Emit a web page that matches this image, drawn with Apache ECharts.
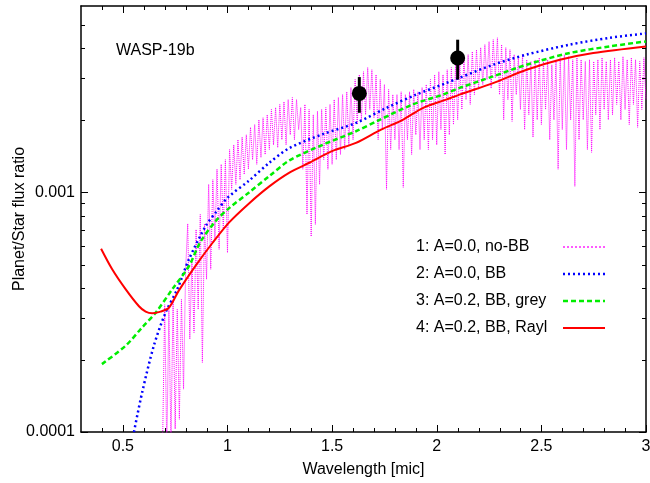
<!DOCTYPE html>
<html><head><meta charset="utf-8">
<script src="https://cdn.jsdelivr.net/npm/echarts@6/dist/echarts.min.js"></script>
<style>html,body{margin:0;padding:0;background:#fff}#c{width:650px;height:483px}</style>
</head><body><div id="c"></div>
<script>
const FONT = "'Liberation Sans', Arial, Helvetica, sans-serif";
const seriesNames = ['1: A=0.0, no-BB', '2: A=0.0, BB', '3: A=0.2, BB, grey', '4: A=0.2, BB, Rayl'];
const seriesColors = ['#ff00ff', '#0000ff', '#00ee00', '#ff0000'];
const titleText = 'WASP-19b';
const xName = 'Wavelength [mic]';
const yName = 'Planet/Star flux ratio';
const xMajor = [0.5, 1, 1.5, 2, 2.5, 3];
const xMinor = [0.4, 0.6, 0.7, 0.8, 0.9, 1.1, 1.2, 1.3, 1.4, 1.6, 1.7, 1.8, 1.9, 2.1, 2.2, 2.3, 2.4, 2.6, 2.7, 2.8, 2.9];
const yMajor = [0.0001, 0.001];
const yMinor = [0.0002, 0.0003, 0.0004, 0.0005, 0.0006, 0.0007, 0.0008, 0.0009, 0.002, 0.003, 0.004, 0.005];

const magenta = [
[0.69,0.00009],[0.70,0.00034],[0.71,0.000085],[0.72,0.000325],[0.73,0.00009],[0.74,0.000358],[0.75,0.000103],[0.76,0.000325],[0.77,0.000113],[0.78,0.000358],
[0.79,0.000151],[0.80,0.000478],[0.81,0.00074],[0.82,0.000244],[0.83,0.000526],[0.84,0.00026],[0.85,0.0007],[0.86,0.000325],[0.87,0.00081],[0.88,0.000195],
[0.89,0.00074],[0.90,0.000434],[0.91,0.00108],[0.92,0.000478],[0.93,0.00113],[0.94,0.000637],[0.95,0.00125],[0.96,0.000579],[0.97,0.00131],[0.98,0.0007],
[0.99,0.00137],[1.00,0.00056],[1.01,0.00151],[1.02,0.00103],[1.03,0.00158],[1.04,0.00108],[1.05,0.00166],[1.06,0.00113],[1.07,0.0017],[1.08,0.00119],
[1.09,0.00174],[1.10,0.00125],[1.11,0.00187],[1.12,0.00137],[1.13,0.00192],[1.14,0.00131],[1.15,0.00201],[1.16,0.0014],[1.17,0.00205],[1.18,0.00144],
[1.19,0.00211],[1.20,0.00151],[1.21,0.00222],[1.22,0.00158],[1.23,0.00226],[1.24,0.00154],[1.25,0.00233],[1.26,0.00166],[1.27,0.00239],[1.28,0.00158],
[1.29,0.00244],[1.30,0.00174],[1.31,0.00249],[1.32,0.00166],[1.33,0.00244],[1.34,0.00183],[1.35,0.00226],[1.36,0.00125],[1.37,0.00233],[1.38,0.00081],
[1.39,0.00222],[1.40,0.000655],[1.41,0.00211],[1.42,0.000735],[1.43,0.00218],[1.44,0.00108],[1.45,0.00222],[1.46,0.00137],[1.47,0.00226],[1.48,0.00125],
[1.49,0.00233],[1.50,0.00131],[1.51,0.00244],[1.52,0.00137],[1.53,0.00249],[1.54,0.00144],[1.55,0.00256],[1.56,0.00151],[1.57,0.00263],[1.58,0.00158],
[1.59,0.00274],[1.60,0.00166],[1.61,0.00296],[1.62,0.00192],[1.63,0.0031],[1.64,0.00201],[1.65,0.00319],[1.66,0.00211],[1.67,0.00332],[1.68,0.00222],
[1.69,0.00325],[1.70,0.00205],[1.71,0.0031],[1.72,0.00166],[1.73,0.00296],[1.74,0.00183],[1.75,0.00282],[1.76,0.00103],[1.77,0.00269],[1.78,0.00151],
[1.79,0.00256],[1.80,0.00166],[1.81,0.00256],[1.82,0.00151],[1.83,0.00263],[1.84,0.00105],[1.85,0.00256],[1.86,0.00166],[1.87,0.00263],[1.88,0.00144],
[1.89,0.00269],[1.90,0.00174],[1.91,0.00263],[1.92,0.00151],[1.93,0.00274],[1.94,0.00166],[1.95,0.00282],[1.96,0.00151],[1.97,0.00296],[1.98,0.00166],
[1.99,0.0031],[2.00,0.00158],[2.01,0.00319],[2.02,0.00183],[2.03,0.0031],[2.04,0.00144],[2.05,0.00325],[2.06,0.00174],[2.07,0.00332],[2.08,0.00192],
[2.09,0.00341],[2.10,0.00201],[2.11,0.0035],[2.12,0.00222],[2.13,0.00366],[2.14,0.00244],[2.15,0.00376],[2.16,0.00233],[2.17,0.00387],[2.18,0.00256],
[2.19,0.00394],[2.20,0.00269],[2.21,0.00402],[2.22,0.00282],[2.23,0.00414],[2.24,0.00296],[2.25,0.00426],[2.26,0.00272],[2.27,0.00434],[2.28,0.00301],
[2.29,0.00442],[2.30,0.00256],[2.31,0.00414],[2.32,0.00201],[2.33,0.00402],[2.34,0.00244],[2.35,0.00394],[2.36,0.00198],[2.37,0.00376],[2.38,0.00256],
[2.39,0.00365],[2.40,0.00222],[2.41,0.00376],[2.42,0.00183],[2.43,0.00358],[2.44,0.00211],[2.45,0.00352],[2.46,0.0017],[2.47,0.00358],[2.48,0.00201],
[2.49,0.00365],[2.50,0.00192],[2.51,0.00352],[2.52,0.00222],[2.53,0.00358],[2.54,0.00166],[2.55,0.00341],[2.56,0.00201],[2.57,0.00358],[2.58,0.00125],
[2.59,0.00365],[2.60,0.00183],[2.61,0.00376],[2.62,0.00151],[2.63,0.00369],[2.64,0.00201],[2.65,0.00358],[2.66,0.00106],[2.67,0.00365],[2.68,0.00166],
[2.69,0.00358],[2.70,0.00201],[2.71,0.00352],[2.72,0.00151],[2.73,0.00358],[2.74,0.00147],[2.75,0.00352],[2.76,0.00211],[2.77,0.00358],[2.78,0.00183],
[2.79,0.00365],[2.80,0.00222],[2.81,0.00352],[2.82,0.00201],[2.83,0.00358],[2.84,0.00211],[2.85,0.00365],[2.86,0.00233],[2.87,0.00352],[2.88,0.00201],
[2.89,0.00369],[2.90,0.00222],[2.91,0.00358],[2.92,0.00192],[2.93,0.00365],[2.94,0.00233],[2.95,0.00358],[2.96,0.00187],[2.97,0.00352],[2.98,0.00222],
[2.99,0.00365],[3.00,0.00244]
];
const blue = [[0.553,0.0001],[0.592,0.000146],[0.648,0.000229],[0.704,0.000315],[0.76,0.000394],[0.816,0.000526],[0.896,0.000724],[0.944,0.000825],[1.0,0.00095],[1.103,0.00112],[1.2,0.00133],[1.295,0.00153],[1.455,0.00175],[1.614,0.00195],[1.758,0.00225],[1.902,0.00256],[2.045,0.00286],[2.109,0.00301],[2.269,0.00341],[2.429,0.00376],[2.636,0.00414],[2.827,0.00442],[3.0,0.00461]];
const green = [[0.4,0.000192],[0.513,0.000229],[0.592,0.000273],[0.657,0.000315],[0.736,0.000394],[0.816,0.000493],[0.87,0.00062],[0.944,0.00076],[1.008,0.00086],[1.103,0.001],[1.2,0.00117],[1.296,0.00136],[1.455,0.00158],[1.614,0.0018],[1.727,0.00201],[1.886,0.00233],[2.029,0.00256],[2.109,0.00273],[2.269,0.00305],[2.429,0.00341],[2.636,0.00382],[2.827,0.00407],[3.0,0.00427]];
const red = [[0.396,0.000582],[0.449,0.000478],[0.513,0.000395],[0.577,0.000335],[0.609,0.000318],[0.64,0.000313],[0.68,0.000318],[0.72,0.00033],[0.768,0.00039],[0.848,0.000495],[0.928,0.000615],[1.008,0.00075],[1.103,0.0009],[1.2,0.00106],[1.296,0.00121],[1.391,0.00133],[1.502,0.00149],[1.614,0.00161],[1.734,0.00183],[1.838,0.00201],[1.933,0.00225],[2.045,0.00244],[2.109,0.00256],[2.269,0.00286],[2.429,0.00325],[2.588,0.00358],[2.748,0.00382],[3.0,0.00407]];
const obsX = [1.63, 2.10];
const obsY = [0.00259, 0.00364];
const obsLo = [0.00215, 0.00296];
const obsHi = [0.00303, 0.00434];

const chart = echarts.init(document.getElementById('c'), null, {renderer: 'canvas'});
const axisLineStyle = {color: '#000', width: 1.5};
const lineStyles = [
  {color: seriesColors[0], width: 1, type: [1, 1]},
  {color: seriesColors[1], width: 2.5, type: [2, 3]},
  {color: seriesColors[2], width: 2.5, type: [5, 3]},
  {color: seriesColors[3], width: 2, type: 'solid'}
];
const legendLineStyles = [
  {color: seriesColors[0], width: 1.3, type: [2, 2], opacity: 1},
  lineStyles[1], lineStyles[2], lineStyles[3]
];
function fmtX(v) { return String(Number(Number(v).toFixed(2))); }
function fmtY(v) { return String(Number(Number(v).toPrecision(6))); }
function xAx(pos, showLabel) {
  return {
    type: 'value', min: 0.3, max: 3, position: pos, gridIndex: 0,
    axisLine: {show: true, onZero: false, lineStyle: axisLineStyle},
    axisTick: {show: false},
    axisLabel: {show: showLabel, customValues: xMajor, formatter: fmtX, fontSize: 16, fontFamily: FONT, color: '#000', margin: 7},
    splitLine: {show: false},
    name: showLabel ? xName : '', nameLocation: 'middle', nameGap: 30, nameMoveOverlap: false,
    nameTextStyle: {fontSize: 16, fontFamily: FONT, color: '#000'}
  };
}
function yAx(pos, showLabel) {
  return {
    type: 'log', logBase: 10, min: 0.0001, max: 0.006, position: pos, gridIndex: 0,
    axisLine: {show: true, onZero: false, lineStyle: axisLineStyle},
    axisTick: {show: false},
    axisLabel: {show: showLabel, formatter: function (v) { return yMajor.some(m => Math.abs(m - v) / m < 1e-6) ? fmtY(v) : ''; },
                fontSize: 16, fontFamily: FONT, color: '#000', margin: 6},
    splitLine: {show: false},
    name: showLabel ? yName : '', nameLocation: 'middle', nameGap: 53, nameMoveOverlap: false,
    nameTextStyle: {fontSize: 16, fontFamily: FONT, color: '#000'}
  };
}
const option = {
  animation: false,
  backgroundColor: '#fff',
  textStyle: {fontFamily: FONT},
  title: {text: titleText, left: 116, top: 43, padding: 0, textStyle: {fontSize: 16, fontWeight: 'normal', fontFamily: FONT, color: '#000'}},
  grid: {left: 81, right: 4, top: 6, bottom: 51, containLabel: false, outerBoundsMode: 'none'},
  legend: {
    data: seriesNames.map((n, i) => ({name: n, lineStyle: legendLineStyles[i], itemStyle: {opacity: 0}})),
    orient: 'vertical', left: 416, top: 239, align: 'right', padding: 0,
    itemWidth: 42, itemHeight: 11, itemGap: 11,
    itemStyle: {opacity: 0},
    formatter: function (n) { return '{a|' + n + '}'; },
    textStyle: {fontSize: 16, fontFamily: FONT, color: '#000', rich: {a: {width: 142, align: 'left', fontSize: 16, fontFamily: FONT, color: '#000', lineHeight: 16}}}
  },
  xAxis: [xAx('bottom', true), xAx('top', false)],
  yAxis: [yAx('left', true), yAx('right', false)],
  series: [
    {name: seriesNames[0], type: 'line', data: magenta, symbol: 'none', clip: true, z: 2,
     lineStyle: lineStyles[0], itemStyle: {color: seriesColors[0]}},
    {name: seriesNames[1], type: 'line', data: blue, symbol: 'none', smooth: 0.3, clip: true, z: 3,
     lineStyle: lineStyles[1], itemStyle: {color: seriesColors[1]}},
    {name: seriesNames[2], type: 'line', data: green, symbol: 'none', smooth: 0.3, clip: true, z: 4,
     lineStyle: lineStyles[2], itemStyle: {color: seriesColors[2]}},
    {name: seriesNames[3], type: 'line', data: red, symbol: 'none', smooth: 0.3, clip: true, z: 5,
     lineStyle: lineStyles[3], itemStyle: {color: seriesColors[3]}},
    {name: 'obs-err', type: 'custom', z: 6,
     data: obsX.map((x, i) => [x, obsLo[i], obsHi[i]]),
     encode: {x: 0, y: [1, 2]},
     renderItem: function (params, api) {
       const x = api.value(0);
       const p1 = api.coord([x, api.value(1)]);
       const p2 = api.coord([x, api.value(2)]);
       return {type: 'line', shape: {x1: p1[0], y1: p1[1], x2: p2[0], y2: p2[1]}, style: {stroke: '#000', lineWidth: 3}};
     }},
    {name: 'obs', type: 'scatter', z: 7, symbol: 'circle', symbolSize: 15,
     data: obsX.map((x, i) => [x, obsY[i]]), itemStyle: {color: '#000', opacity: 1}}
  ]
};
chart.setOption(option);

// ticks (inside, mirrored on all four sides), placed through the axes' own scales
const X = v => chart.convertToPixel({xAxisIndex: 0}, v);
const Y = v => chart.convertToPixel({yAxisIndex: 0}, v);
const xl = X(0.3), xr = X(3), yb = Y(0.0001), yt = Y(0.006);
const g = [];
function seg(x1, y1, x2, y2) {
  g.push({type: 'line', silent: true, z: 10, shape: {x1: x1, y1: y1, x2: x2, y2: y2}, style: {stroke: '#000', lineWidth: 1}});
}
function xt(v, len) { const x = Math.round(X(v)) + 0.5; seg(x, yb, x, yb - len); seg(x, yt, x, yt + len); }
function yti(v, len) { const y = Math.round(Y(v)) + 0.5; seg(xl, y, xl + len, y); seg(xr, y, xr - len, y); }
xMajor.forEach(v => xt(v, 7));
xMinor.forEach(v => xt(v, 4));
yMajor.forEach(v => yti(v, 7));
yMinor.forEach(v => yti(v, 4));
chart.setOption({graphic: g});
</script>
</body></html>
